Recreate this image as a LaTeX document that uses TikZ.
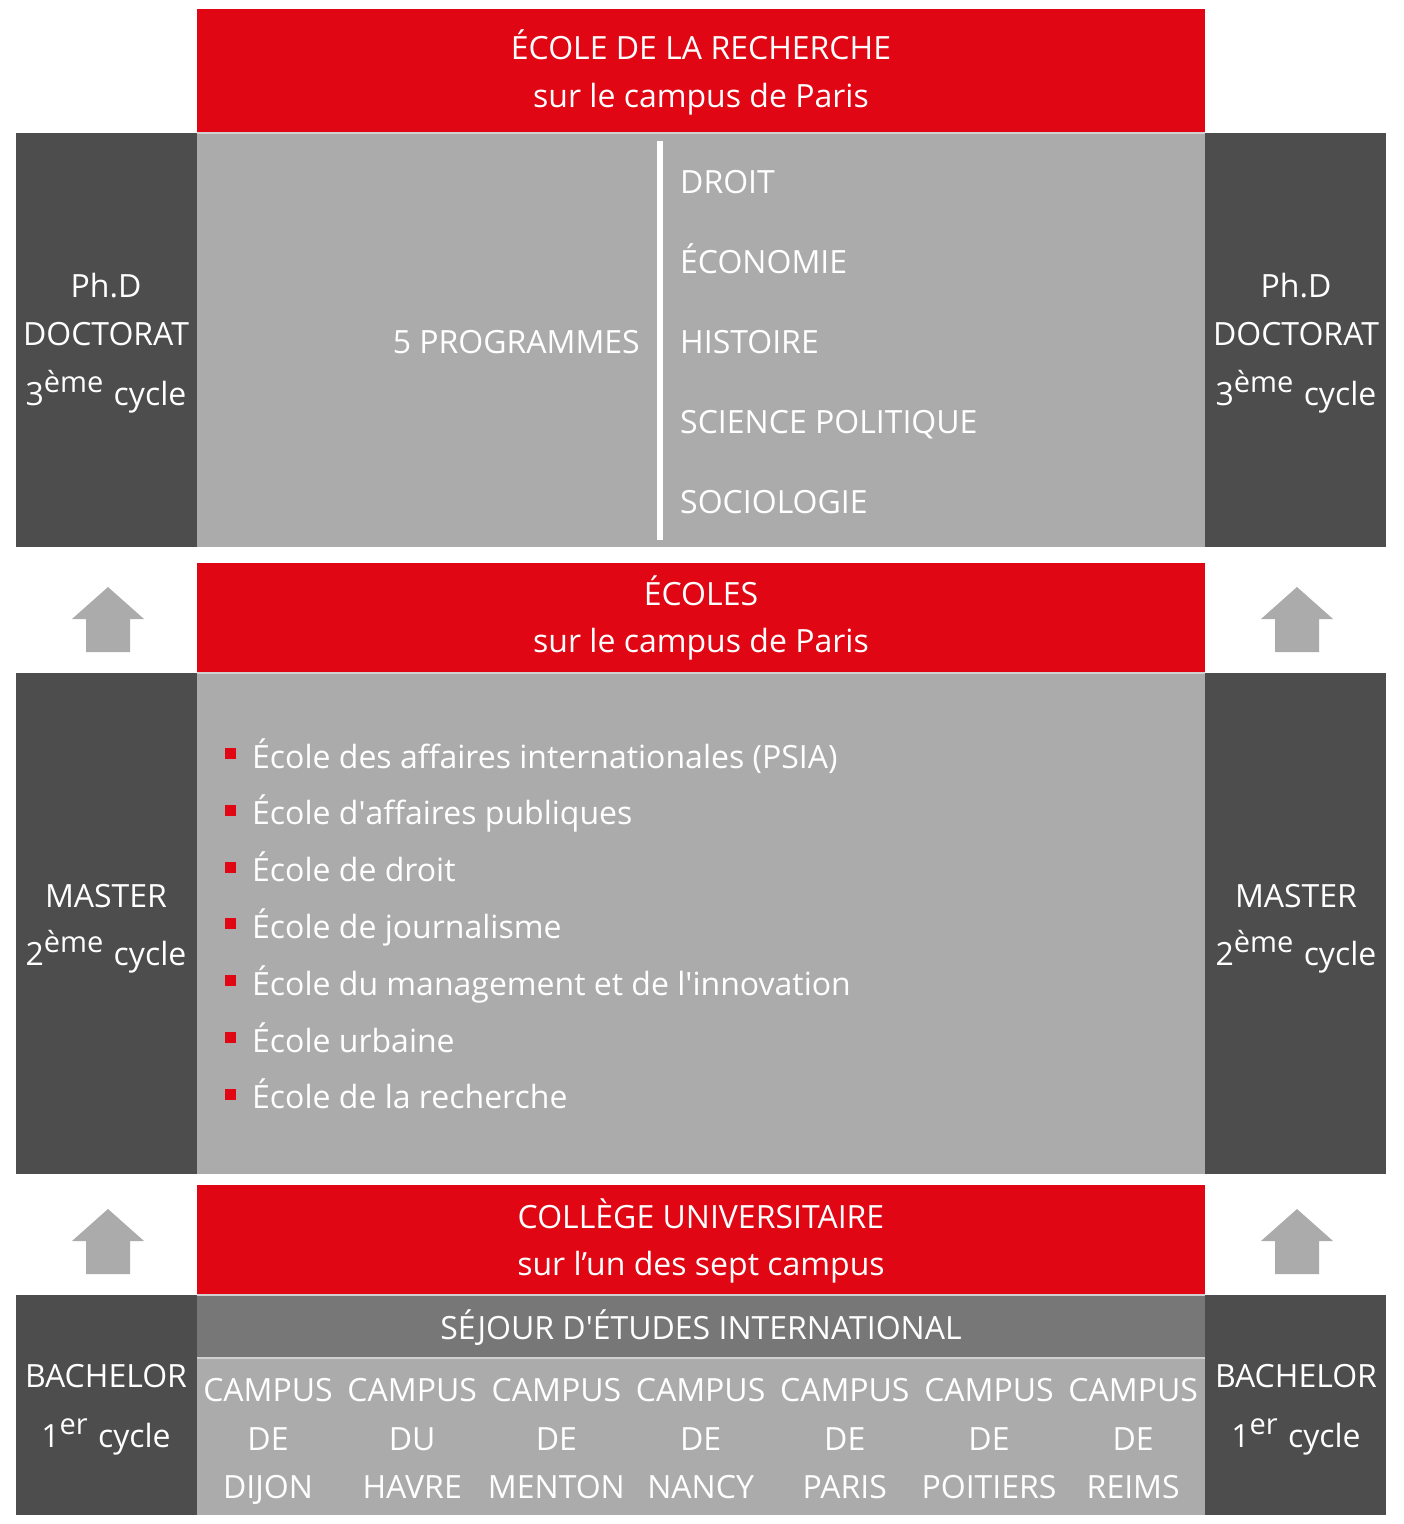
\documentclass[tikz,border=0pt]{standalone}
\usepackage{fontspec}
\setmainfont{Open Sans}
\definecolor{sred}{HTML}{E10613}
\definecolor{sdark}{HTML}{4D4D4D}
\definecolor{sgray}{HTML}{ABABAB}
\definecolor{smid}{HTML}{777777}
\definecolor{sline}{HTML}{D0D0D0}
\tikzset{
  txt/.style={text=white,font=\fontsize{32}{38}\selectfont,inner sep=0pt,anchor=base},
  txtw/.style={txt,anchor=base west},
  txte/.style={txt,anchor=base east},
  upar/.style={fill=sgray,draw=none},
  bul/.style={fill=sred,draw=none},
}
\newcommand{\supx}[1]{\raisebox{13pt}{\fontsize{29}{32}\selectfont #1}\hspace{2pt}}
\newcommand{\uparrowshape}[2]{%
  \fill[upar] (#1-36,#2+32) -- (#1,#2) -- (#1+36,#2+32) -- (#1+22,#2+32) -- (#1+22,#2+65) -- (#1-22,#2+65) -- (#1-22,#2+32) -- cycle;}
\begin{document}
\begin{tikzpicture}[x=1pt,y=-1pt]
\useasboundingbox (0,0) rectangle (1404,1524);
% ---------- row 1 ----------
\fill[sred] (197,9) rectangle (1205,132);
\fill[sline] (197,132) rectangle (1205,134);
\fill[sgray] (197,134) rectangle (1205,547);
\fill[sdark] (16,133) rectangle (197,547);
\fill[sdark] (1205,133) rectangle (1386,547);
\fill[white] (657,141) rectangle (663,540);
\node[txt] (t1a) at (701,59) {ÉCOLE DE LA RECHERCHE};
\node[txt] (t1b) at (701,107) {sur le campus de Paris};
\node[txte] (prog) at (640,353) {5 PROGRAMMES};
\node[txtw] (p1) at (680,193) {DROIT};
\node[txtw] (p2) at (680,273) {ÉCONOMIE};
\node[txtw] (p3) at (680,353) {HISTOIRE};
\node[txtw] (p4) at (680,433) {SCIENCE POLITIQUE};
\node[txtw] (p5) at (680,513) {SOCIOLOGIE};
\foreach \cx/\nm in {106/L,1296/R}{
  \node[txt] (phd\nm) at (\cx,297) {Ph.D};
  \node[txt] (doc\nm) at (\cx,345) {DOCTORAT};
  \node[txt] (cyc3\nm) at (\cx,405) {3\supx{ème} cycle};
}
% ---------- arrows ----------
\uparrowshape{108}{587}
\uparrowshape{1297}{587}
\uparrowshape{108}{1209}
\uparrowshape{1297}{1209}
% ---------- row 2 ----------
\fill[sred] (197,563) rectangle (1205,672);
\fill[sline] (197,672) rectangle (1205,674);
\fill[sgray] (197,674) rectangle (1205,1174);
\fill[sdark] (16,673) rectangle (197,1174);
\fill[sdark] (1205,673) rectangle (1386,1174);
\node[txt] (t2a) at (701,605) {ÉCOLES};
\node[txt] (t2b) at (701,652) {sur le campus de Paris};
\foreach \i/\s in {0/{École des affaires internationales (PSIA)},1/{École d\textquotesingle affaires publiques},2/{École de droit},3/{École de journalisme},4/{École du management et de l\textquotesingle innovation},5/{École urbaine},6/{École de la recherche}}{
  \pgfmathsetmacro{\yb}{768+56.8*\i}
  \fill[bul] (225,\yb-20) rectangle (236,\yb-9);
  \node[txtw] (e\i) at (252,\yb) {\s};
}
\foreach \cx/\nm in {106/L,1296/R}{
  \node[txt] (mas\nm) at (\cx,907) {MASTER};
  \node[txt] (cyc2\nm) at (\cx,965) {2\supx{ème} cycle};
}
% ---------- row 3 ----------
\fill[sred] (197,1185) rectangle (1205,1294);
\fill[sline] (197,1294) rectangle (1205,1296);
\fill[smid] (197,1296) rectangle (1205,1357);
\fill[sline] (197,1357) rectangle (1205,1359);
\fill[sgray] (197,1359) rectangle (1205,1515);
\fill[sdark] (16,1295) rectangle (197,1515);
\fill[sdark] (1205,1295) rectangle (1386,1515);
\node[txt] (t3a) at (701,1228) {COLLÈGE UNIVERSITAIRE};
\node[txt] (t3b) at (701,1275) {sur l’un des sept campus};
\node[txt] (sej) at (701,1339) {SÉJOUR D\textquotesingle ÉTUDES INTERNATIONAL};
\foreach \i/\a/\b in {0/DE/DIJON,1/DU/HAVRE,2/DE/MENTON,3/DE/NANCY,4/DE/PARIS,5/DE/POITIERS,6/DE/REIMS}{
  \pgfmathsetmacro{\cx}{268+144.2*\i}
  \node[txt] (ca\i) at (\cx,1401) {CAMPUS};
  \node[txt] (cb\i) at (\cx,1450) {\a};
  \node[txt] (cc\i) at (\cx,1498) {\b};
}
\foreach \cx/\nm in {106/L,1296/R}{
  \node[txt] (bac\nm) at (\cx,1387) {BACHELOR};
  \node[txt] (cyc1\nm) at (\cx,1447) {1\supx{er} cycle};
}
\end{tikzpicture}
\end{document}
